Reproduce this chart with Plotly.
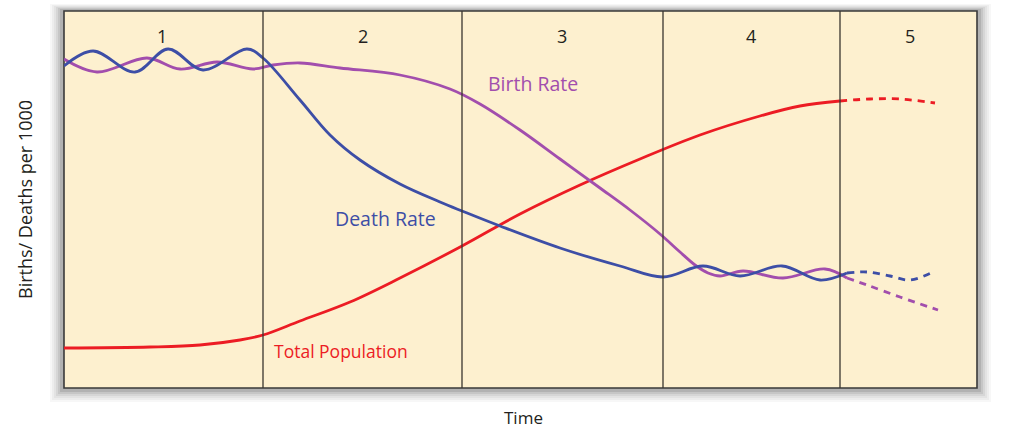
import plotly.graph_objects as go

# ---- data (time units, rate units) ----
death_x = [64, 93, 135, 168, 203, 247, 263, 300, 330, 360, 400, 440, 462, 500, 560, 620, 663, 703, 740, 782, 820, 847]
death_y = [322, 337, 316, 339, 318, 339, 330, 288, 253, 228, 204, 186, 177, 162, 140, 122, 111, 122, 112, 122, 108, 115]
death_proj_x = [847, 867, 890, 910, 933]
death_proj_y = [115, 116, 112, 108, 116]

birth_x = [64, 97, 147, 180, 217, 253, 273, 300, 340, 400, 450, 480, 520, 560, 600, 630, 660, 680, 695, 708, 720, 743, 783, 825, 847]
birth_y = [329, 316, 330, 319, 326, 319, 323, 325, 320, 313, 299, 284, 258, 229, 200, 178, 154, 136, 123, 115, 112, 117, 110, 119, 110]
birth_proj_x = [847, 867, 900, 938]
birth_proj_y = [110, 103, 91, 78]

pop_x = [64, 150, 200, 240, 263, 300, 350, 400, 462, 520, 580, 640, 700, 760, 800, 840]
pop_y = [40, 41, 43, 48, 53, 67, 86, 110, 142, 174, 203, 229, 253, 272, 282, 287]
pop_proj_x = [840, 870, 900, 935]
pop_proj_y = [287, 289, 289, 285]

stage_bounds = [263, 462, 663, 840]
stage_labels = ["1", "2", "3", "4", "5"]
stage_label_x = [162, 363, 562, 751, 910]

BLUE = "#3d4ea6"
PURPLE = "#a24ead"
RED = "#ec1c24"
BG = "#fdf0cf"
FONT = "Open Sans"
FS = 18

fig = go.Figure()

def add_line(x, y, color, dash="solid"):
    fig.add_trace(go.Scatter(x=x, y=y, mode="lines",
                             line=dict(color=color, width=2.8, shape="spline", dash=dash),
                             hoverinfo="skip", showlegend=False))

add_line(pop_x, pop_y, RED)
add_line(pop_proj_x, pop_proj_y, RED, "7px,6px")
add_line(birth_x, birth_y, PURPLE)
add_line(birth_proj_x, birth_proj_y, PURPLE, "7px,6px")
add_line(death_x, death_y, BLUE)
add_line(death_proj_x, death_proj_y, BLUE, "7px,6px")

W, H = 1030, 430
L, R, T, B = 64, 977, 11, 388
PW, PH = R - L, B - T

def px_to_paper_x(p):
    return (p - L) / PW

def px_to_paper_y(p):
    return (B - p) / PH

shapes = []
# soft shadow around the plot panel
for i, op in enumerate([0.04, 0.05, 0.06, 0.08, 0.10, 0.14]):
    d = 14 - 2 * i
    shapes.append(dict(type="rect", xref="paper", yref="paper", layer="below",
                       x0=px_to_paper_x(L - d), x1=px_to_paper_x(R + d),
                       y0=px_to_paper_y(B + d), y1=px_to_paper_y(T - d * 0.5),
                       line=dict(width=0), fillcolor=f"rgba(60,60,60,{op})"))
# panel background
shapes.append(dict(type="rect", xref="paper", yref="paper", layer="below",
                   x0=0, x1=1, y0=0, y1=1, line=dict(color="#3a3a3a", width=1.6), fillcolor=BG))
# stage boundaries
for xb in stage_bounds:
    shapes.append(dict(type="line", xref="x", yref="paper", x0=xb, x1=xb, y0=0, y1=1,
                       line=dict(color="#3a352f", width=1.3)))

annotations = []
for lab, lx in zip(stage_labels, stage_label_x):
    annotations.append(dict(x=lx, y=352, xref="x", yref="y", text=lab, showarrow=False,
                            font=dict(family=FONT, size=FS, color="#231f20")))
annotations += [
    dict(x=533, y=305, xref="x", yref="y", text="Birth Rate", showarrow=False,
         font=dict(family=FONT, size=19.5, color=PURPLE)),
    dict(x=385, y=170, xref="x", yref="y", text="Death Rate", showarrow=False,
         font=dict(family=FONT, size=19.5, color=BLUE)),
    dict(x=341, y=37, xref="x", yref="y", text="Total Population", showarrow=False,
         font=dict(family=FONT, size=17.5, color=RED)),
    dict(x=px_to_paper_x(523), y=px_to_paper_y(430), xref="paper", yref="paper", text="Time",
         showarrow=False, xanchor="center", yanchor="bottom", borderpad=0,
         font=dict(family=FONT, size=17, color="#231f20")),
    dict(x=px_to_paper_x(25), y=px_to_paper_y(200), xref="paper", yref="paper",
         text="Births/ Deaths per 1000", showarrow=False, textangle=-90,
         xanchor="center", yanchor="middle",
         font=dict(family=FONT, size=FS, color="#231f20")),
]

fig.update_layout(
    width=W, height=H,
    margin=dict(l=L, r=W - R, t=T, b=H - B, autoexpand=False),
    paper_bgcolor="white", plot_bgcolor="rgba(0,0,0,0)",
    xaxis=dict(range=[64, 977], visible=False, fixedrange=True),
    yaxis=dict(range=[0, 377], visible=False, fixedrange=True),
    shapes=shapes, annotations=annotations,
    showlegend=False,
)

fig.write_html("out.html", config={"displayModeBar": False},
               post_script="document.body.style.margin='0';document.body.style.overflow='hidden';")
